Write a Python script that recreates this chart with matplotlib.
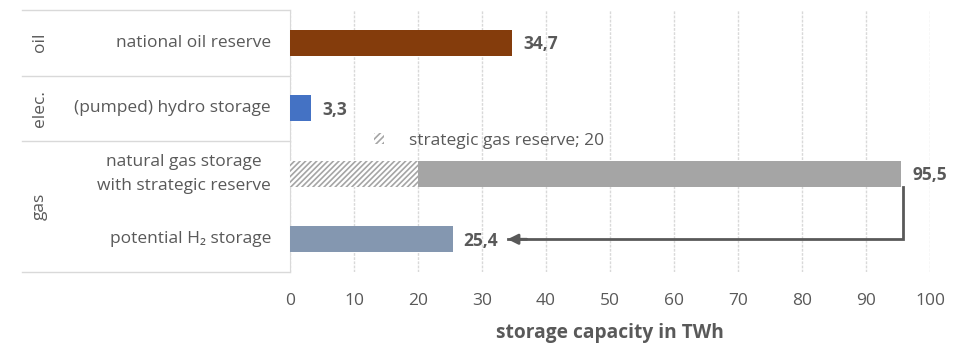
import matplotlib.pyplot as plt
import matplotlib.transforms as mtransforms
from matplotlib.patches import Patch

# data
categories = ['national oil reserve', '(pumped) hydro storage',
              'natural gas storage\nwith strategic reserve', 'potential H₂ storage']
values = [34.7, 3.3, 95.5, 25.4]
value_labels = ['34,7', '3,3', '95,5', '25,4']
colors = ['#843C0C', '#4472C4', '#A5A5A5', '#8497B0']
strategic_reserve = 20
groups = ['oil', 'elec.', 'gas']
group_rows = [[0], [1], [2, 3]]
xticks = [0, 10, 20, 30, 40, 50, 60, 70, 80, 90, 100]

txt = '#595959'
grid = '#D9D9D9'
plt.rcParams['font.family'] = ['Open Sans', 'DejaVu Sans']
plt.rcParams['hatch.linewidth'] = 1.2
fs = 12.5

fig = plt.figure(figsize=(9.73, 3.43), dpi=100)
ax = fig.add_axes([290 / 973, 1 - 272 / 343, 640 / 973, 262 / 343])

ypos = [3, 2, 1, 0]
h = 0.40
for y, v, c in zip(ypos, values, colors):
    ax.barh(y, v, height=h, color=c, zorder=3)
# hatched strategic reserve part on gas bar
ax.barh(ypos[2], strategic_reserve, height=h, color='white', edgecolor='#A5A5A5',
        hatch='//////', linewidth=0, zorder=4)

for y, v, s in zip(ypos, values, value_labels):
    ax.annotate(s, (v, y), xytext=(8, -1), textcoords='offset points', va='center',
                ha='left', fontsize=fs, fontweight='bold', color=txt)

# arrow from gas bar to H2 bar
xa = values[2] + 0.3
ax.plot([xa, xa, 34.0], [ypos[2] - h / 2, ypos[3], ypos[3]], color=txt, lw=2, zorder=5,
        solid_joinstyle='miter')
ax.annotate('', xy=(34.0, ypos[3]), xytext=(37.0, ypos[3]),
            arrowprops=dict(arrowstyle='-|>,head_length=0.6,head_width=0.3', color=txt, lw=2,
                            shrinkA=0, shrinkB=0), zorder=6)

ax.set_xlim(0, 100)
ax.set_ylim(-0.5, 3.5)
ax.set_xticks(xticks)
ax.set_yticks([])
ax.grid(axis='x', color=grid, lw=1, ls=(0, (2, 1)), zorder=0)
for sp in ['top', 'right', 'bottom']:
    ax.spines[sp].set_visible(False)
ax.spines['left'].set_color(grid)
ax.tick_params(axis='x', length=0, pad=15, labelsize=fs, labelcolor=txt)
ax.set_xlabel('storage capacity in TWh', fontsize=13.8, fontweight='bold', color=txt, labelpad=10)

# legend entry for strategic reserve
leg_h = Patch(facecolor='white', edgecolor='#A5A5A5', hatch='/////', linewidth=0)
ax.legend([leg_h], ['strategic gas reserve; %d' % strategic_reserve], loc='center left',
          bbox_to_anchor=((374 - 290) / 640, 0.5), frameon=False, handlelength=0.6,
          handleheight=0.6, handletextpad=1.4, borderpad=0, borderaxespad=0,
          fontsize=fs, labelcolor=txt)

# left table
tr = mtransforms.blended_transform_factory(ax.transAxes, ax.transData)
x_left = (22 - 290) / 640
for yl in [3.5, 2.5, 1.5, -0.5]:
    ax.plot([x_left, 0], [yl, yl], transform=tr, color=grid, lw=1, clip_on=False)
x_lab = (271 - 290) / 640
for y, c in zip(ypos, categories):
    ax.text(x_lab, y, c, transform=tr, ha='right', va='center', fontsize=fs,
            color=txt, linespacing=1.65, multialignment='center')
x_grp = (40 - 290) / 640
for g, rows in zip(groups, group_rows):
    yc = sum(ypos[r] for r in rows) / len(rows)
    ax.text(x_grp, yc, g, transform=tr, ha='center', va='center', rotation=90,
            fontsize=fs, color=txt)

fig.savefig('out.png', dpi=100)
